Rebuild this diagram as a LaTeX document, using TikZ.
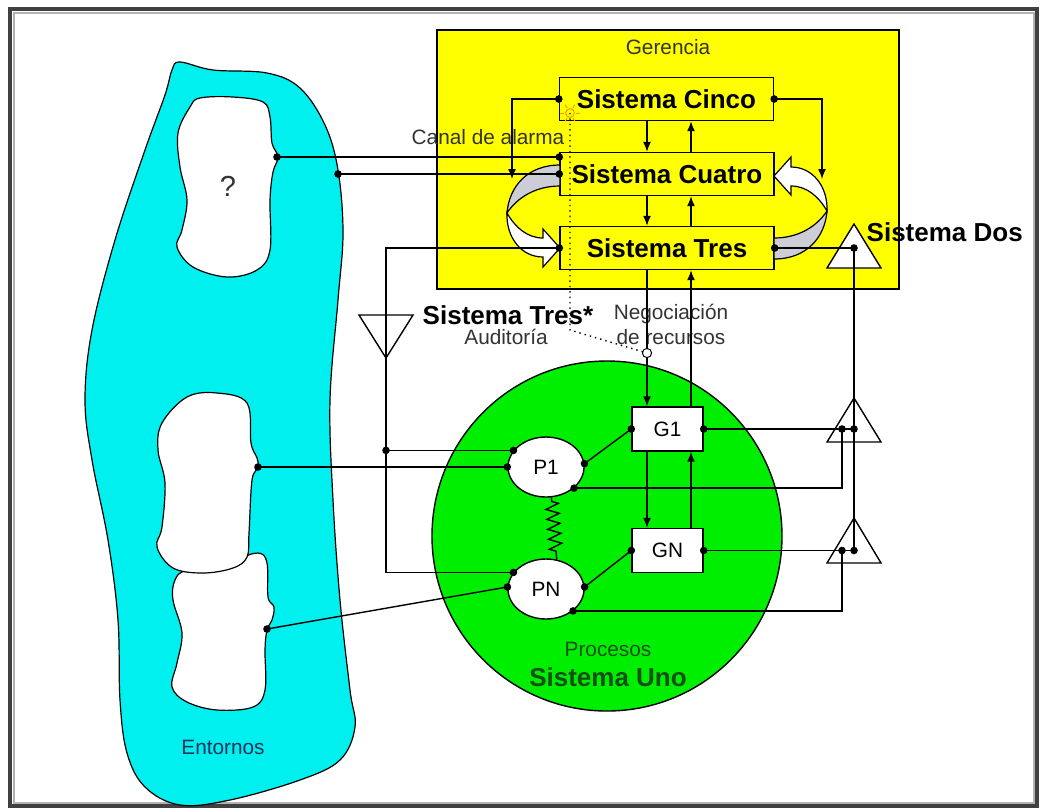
\documentclass[tikz,border=0pt]{standalone}
\usepackage{fontspec}
\setmainfont{Liberation Sans}
\usetikzlibrary{arrows.meta, positioning, shapes.geometric, decorations.pathmorphing}
\definecolor{gerencia}{RGB}{255,255,0}
\definecolor{procgreen}{RGB}{0,238,0}
\definecolor{entorno}{RGB}{0,240,240}
\definecolor{unotext}{RGB}{20,80,20}
\definecolor{entext}{RGB}{30,50,90}
\definecolor{ribgray}{RGB}{205,205,215}
\tikzset{sysbox/.style={rectangle,draw,fill=gerencia,minimum width=107pt,minimum height=21.5pt,inner sep=0pt,font=\fontsize{13}{15}\selectfont\bfseries},opbox/.style={rectangle,draw,fill=white,minimum width=35.5pt,minimum height=22pt,inner sep=0pt,font=\fontsize{10.4}{12}\selectfont},proc/.style={ellipse,draw,fill=white,minimum width=38pt,minimum height=30pt,inner sep=0pt,font=\fontsize{10.4}{12}\selectfont},lbl/.style={inner sep=0pt,font=\fontsize{10.4}{12.5}\selectfont,text=black!80},title/.style={inner sep=0pt,font=\fontsize{13}{15}\selectfont\bfseries},line/.style={-{Latex[length=5pt,width=4pt]}},ribbon/.pic={
  \filldraw[fill=ribgray,line width=0.6pt] (-107,-47) .. controls (-140,-47) and (-158,-25) .. (-160,1) .. controls (-150,-14) and (-132,-26) .. (-107,-26) -- cycle;
  \filldraw[fill=white,line width=0.6pt] (-160,1) .. controls (-161,25) and (-146,45) .. (-124,45) -- (-124,55) -- (-107,36) -- (-124,17) -- (-124,26) .. controls (-140,26) and (-152,15) .. (-160,1) -- cycle;
}}

\begin{document}
\begin{tikzpicture}[x=0.5pt,y=-0.5pt,line width=0.7pt]
\useasboundingbox (0,0) rectangle (1045,811);
\draw[black!75,line width=1.6pt] (10,9) rectangle (1037,806);
\draw[black!30,line width=1pt] (13.5,12.5) rectangle (1033.5,802.5);

% Entornos
\filldraw[fill=entorno,line width=0.6pt] plot[smooth cycle,tension=0.6] coordinates {(180,62) (213,70) (267,73) (300,88) (325,125) (338,170) (343,233) (338,300) (330,400) (333,500) (340,600) (350,690) (355,727) (340,760) (300,780) (230,800) (180,805) (145,787) (127,753) (120,700) (118,620) (108,540) (92,460) (85,400) (92,330) (115,240) (145,150) (165,95) (172,70)};
\filldraw[fill=white,line width=0.6pt] plot[smooth cycle,tension=0.6] coordinates {(200,98) (233,97) (263,102) (270,117) (272,143) (278,157) (273,172) (270,200) (270,250) (257,270) (227,277) (193,267) (177,247) (182,230) (187,200) (180,167) (178,133) (190,107)};
\filldraw[fill=white,line width=0.6pt] plot[smooth cycle,tension=0.6] coordinates {(233,560) (258,553) (267,563) (268,597) (274,607) (272,620) (267,630) (265,650) (265,690) (253,707) (217,710) (187,702) (172,687) (177,663) (182,633) (173,600) (175,580) (187,570)};
\filldraw[fill=white,line width=0.6pt] plot[smooth cycle,tension=0.6] coordinates {(187,397) (217,393) (247,403) (251,443) (257,458) (258,468) (252,480) (249,533) (247,557) (233,568) (203,573) (173,568) (157,547) (162,527) (165,483) (158,450) (162,423)};
\node[lbl,font=\fontsize{14.5}{16}\selectfont] (q) at (228,186) {?};
\node[lbl,text=entext] (entornos) at (223,747) {Entornos};

% Gerencia
\filldraw[fill=gerencia] (437,30) rectangle (899,289);
\node[lbl] (ger) at (668,47) {Gerencia};
\node[sysbox] (cinco) at (666.5,99) {Sistema Cinco};
\node[sysbox] (cuatro) at (667,174) {Sistema Cuatro};
\node[sysbox] (tres) at (667,248) {Sistema Tres};
\pic at (667,212) {ribbon};
\pic[rotate=180] at (667,212) {ribbon};

% Sistema Uno
\node[circle,draw,fill=procgreen,minimum size=175pt,inner sep=0pt] (uno) at (607,536) {};
\node[opbox] (g1) at (667.5,429) {G1};
\node[opbox] (gn) at (667.5,550.5) {GN};
\node[proc] (p1) at (546,467) {P1};
\node[proc] (pn) at (546,589) {PN};
\node[lbl,text=unotext] (procesos) at (608,649) {Procesos};
\node[title,text=unotext] (sisuno) at (608,677) {Sistema Uno};

% labels
\node[title,anchor=west] (sisdos) at (866,232) {Sistema Dos};
\node[title] (trestar) at (508,315) {Sistema Tres*};
\node[lbl] (audit) at (506,337) {Auditoría};
\node[lbl,align=center] (nego) at (671,324.5) {Negociación\\de recursos};
\node[lbl,anchor=east] (canal) at (565,137) {Canal de alarma};

\coordinate (qdot) at (277,157);
\coordinate (edot) at (338,174);
\coordinate (h2dot) at (258,467);
\coordinate (h3dot) at (267,629);
\coordinate (cla) at (512,179);
\coordinate (cra) at (822,179);
\coordinate (aud) at (386,248);
\coordinate (j1) at (386,451);
\coordinate (dos) at (854,248);
\coordinate (d1a) at (842,429);
\coordinate (d1b) at (854,429);
\coordinate (d2a) at (842,550.5);
\coordinate (d2b) at (854,550.5);
\coordinate (sun) at (570,113);
\coordinate (bend) at (570,330);
\coordinate (alarm) at (647,353);
\coordinate (dn) at (647,0);
\coordinate (up) at (691,0);
\coordinate (qend) at (qdot -| cuatro.west);
\coordinate (jp) at (p1.153 -| j1);

% triangles
\draw[fill=white] (854,224) -- (881,268) -- (827,268) -- cycle;
\draw (854,398) -- (881,442) -- (827,442) -- cycle;
\draw (854,518) -- (881,563) -- (827,563) -- cycle;
\draw (359,315) -- (413,315) -- (386,358) -- cycle;

% connectors
\draw (qdot) -- (qend);
\draw (edot) -- (cuatro.west);
\draw[line] (cinco.west) -| (cla);
\draw[line] (cinco.east) -| (cra);
\draw[line] (cinco.south -| dn) -- (cuatro.north -| dn);
\draw[line] (cuatro.north -| up) -- (cinco.south -| up);
\draw[line] (cuatro.south -| dn) -- (tres.north -| dn);
\draw[line] (tres.north -| up) -- (cuatro.south -| up);
\draw[line] (tres.south -| dn) -- (g1.north -| dn);
\draw[line] (g1.north -| up) -- (tres.south -| up);
\draw[line] (g1.south -| dn) -- (gn.north -| dn);
\draw[line] (gn.north -| up) -- (g1.south -| up);
\draw (tres.west) -- (aud) -- (aud |- pn.153) -- (pn.153);
\draw (p1.153) -- (jp);
\draw (h2dot) -- (p1.west);
\draw (h3dot) -- (pn.177);
\draw (p1.5) -- (g1.west);
\draw (pn.3) -- (gn.west);
\draw (g1.east) -- (d1b);
\draw (gn.east) -- (d2b);
\draw (p1.323) -| (d1a);
\draw (pn.321) -| (d2a);
\draw (tres.east) -- (dos);
\draw (dos) -- (d2b);
\draw[decorate,decoration={zigzag,segment length=5pt,amplitude=3.2pt,pre length=2pt,post length=2pt}] (p1.-80) -- (pn.70);

% canal de alarma
\draw[dotted] (sun) -- (bend) -- (alarm);
\filldraw[fill=white,line width=0.5pt] (alarm) circle (2.3pt);
\draw[orange!80!yellow,line width=0.5pt] (sun) circle (2.2pt);
\foreach \a in {0,60,...,300} \draw[orange!80!yellow,line width=0.5pt] (sun) ++(\a:3pt) -- ++(\a:1.8pt);

\foreach \p in {qdot,edot,h2dot,h3dot,qend,cuatro.west,cinco.west,cinco.east,tres.west,tres.east,dos,d1a,d1b,d2a,d2b,g1.west,g1.east,gn.west,gn.east,p1.153,p1.west,p1.5,p1.323,pn.153,pn.177,pn.3,pn.321,jp}
  \fill (\p) circle (1.9pt);
\end{tikzpicture}
\end{document}
